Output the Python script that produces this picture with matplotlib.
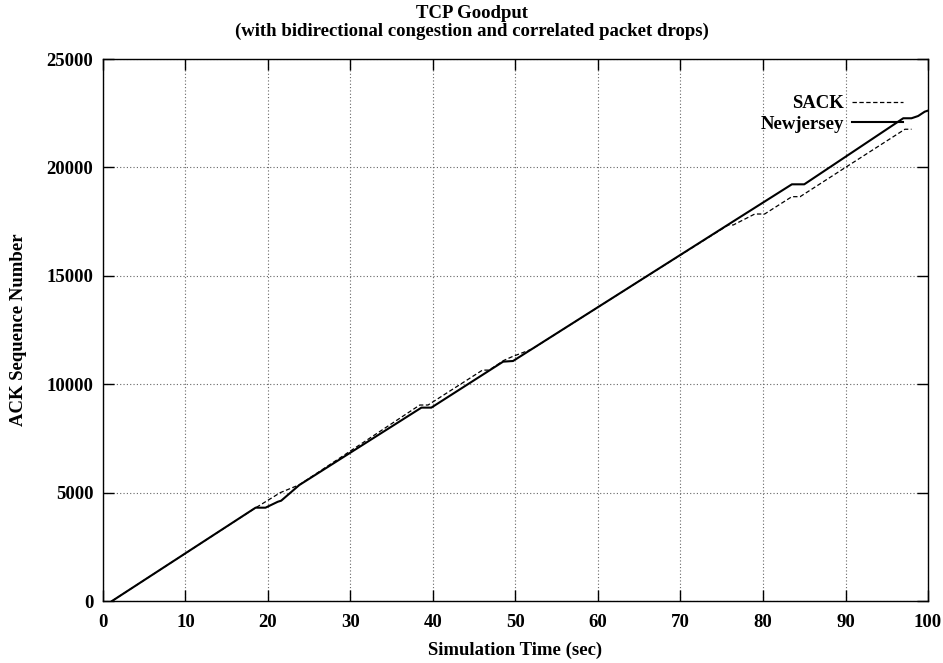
import matplotlib
matplotlib.use("Agg")
import matplotlib.pyplot as plt

# Newjersey (solid)
t_newjersey = [1.1, 18.5, 19.7, 21.2, 21.6, 23.8, 38.6, 39.8, 48.5, 49.7,
               76.6, 83.5, 85.0, 97.0, 98.0, 98.8, 99.6, 100.0]
seq_newjersey = [0, 4305, 4305, 4580, 4627, 5350, 8920, 8920, 11040, 11070,
                 17560, 19220, 19220, 22267, 22267, 22370, 22570, 22620]

# SACK (dashed)
t_sack = [1.1, 18.3, 21.5, 23.8, 38.4, 39.4, 46.0, 46.8, 48.6, 49.6, 52.0,
          66.0, 75.8, 76.4, 79.0, 80.2, 83.5, 84.5, 90.0, 97.2, 98.0]
seq_sack = [0, 4250, 5000, 5360, 9040, 9040, 10650, 10650, 11100, 11270, 11620,
            15000, 17345, 17345, 17850, 17850, 18650, 18650, 20000, 21760, 21760]

x_ticks = list(range(0, 101, 10))
y_ticks = list(range(0, 25001, 5000))

plt.rcParams['font.family'] = ['Liberation Serif', 'DejaVu Serif']
plt.rcParams['font.weight'] = 'bold'
fs = 13.5

fig = plt.figure(figsize=(9.43, 6.63), dpi=100)
ax = fig.add_axes([0.1092, 0.0935, 0.8749, 0.8175])

ax.plot(t_sack, seq_sack, color='black', lw=0.9, dashes=(3.5, 2), label='SACK')
ax.plot(t_newjersey, seq_newjersey, color='black', lw=1.5, label='Newjersey')

ax.set_xlim(0, 100)
ax.set_ylim(0, 25000)
ax.set_xticks(x_ticks)
ax.set_yticks(y_ticks)
ax.grid(True, color='#666666', linestyle=(0, (1, 2)), linewidth=0.8)
ax.tick_params(direction='in', length=8, width=1, top=True, right=True,
               labelsize=fs)
ax.tick_params(axis='x', pad=9)
ax.tick_params(axis='y', pad=7)
for lab in ax.get_xticklabels() + ax.get_yticklabels():
    lab.set_fontweight('bold')
for s in ax.spines.values():
    s.set_linewidth(1)

ax.set_xlabel('Simulation Time (sec)', fontsize=fs, fontweight='bold', labelpad=8)
ax.set_ylabel('ACK Sequence Number', fontsize=fs, fontweight='bold', labelpad=14)

fig.text(0.5, 1 - 13 / 663, 'TCP Goodput', ha='center', va='center',
         fontsize=fs, fontweight='bold')
fig.text(0.5, 1 - 31 / 663,
         '(with bidirectional congestion and correlated packet drops)',
         ha='center', va='center', fontsize=fs, fontweight='bold')

ax.legend(loc='upper right', bbox_to_anchor=(903 / 943, 1 - 95 / 663),
          bbox_transform=fig.transFigure, frameon=False, borderpad=0,
          borderaxespad=0, markerfirst=False, handlelength=2.7,
          handletextpad=0.45, labelspacing=0.2,
          prop={'weight': 'bold', 'size': fs})

fig.savefig('out.png', dpi=100)
